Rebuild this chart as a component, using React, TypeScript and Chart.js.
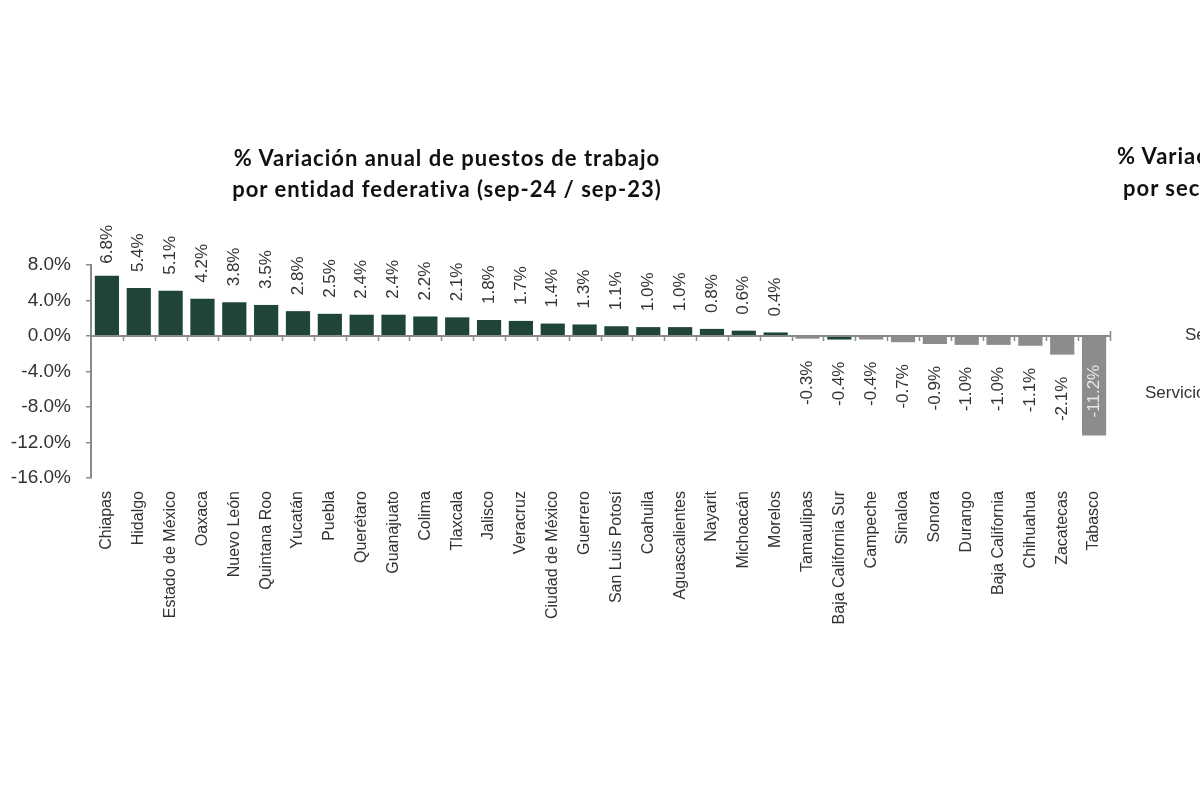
import React, { useEffect, useRef } from "react";
import { Chart, registerables } from "chart.js";

Chart.register(...registerables);

const categories = [
  "Chiapas", "Hidalgo", "Estado de México", "Oaxaca", "Nuevo León", "Quintana Roo",
  "Yucatán", "Puebla", "Querétaro", "Guanajuato", "Colima", "Tlaxcala", "Jalisco",
  "Veracruz", "Ciudad de México", "Guerrero", "San Luis Potosí", "Coahuila",
  "Aguascalientes", "Nayarit", "Michoacán", "Morelos", "Tamaulipas",
  "Baja California Sur", "Campeche", "Sinaloa", "Sonora", "Durango",
  "Baja California", "Chihuahua", "Zacatecas", "Tabasco",
];

const values = [
  6.8, 5.4, 5.1, 4.2, 3.8, 3.5, 2.8, 2.5, 2.4, 2.4, 2.2, 2.1, 1.8, 1.7, 1.4, 1.3,
  1.1, 1.0, 1.0, 0.8, 0.6, 0.4, -0.3, -0.4, -0.4, -0.7, -0.9, -1.0, -1.0, -1.1,
  -2.1, -11.2,
];

const yTicks = [-16, -12, -8, -4, 0, 4, 8];

const titleLines = [
  "% Variación anual de puestos de trabajo",
  "por entidad federativa (sep-24 / sep-23)",
];

const GREEN = "#1e4536";
const GRAY = "#8c8c8c";
const AXIS = "#8a8a8a";
const TEXT = "#333333";
const FONT = "'Liberation Sans', Arial, sans-serif";

const barColors = values.map((v, i) =>
  v >= 0 || categories[i] === "Baja California Sur" ? GREEN : GRAY
);

const fmt = (v: number) => v.toFixed(1) + "%";

const overlayPlugin = {
  id: "overlay",
  afterDatasetsDraw(chart: any) {
    const { ctx, chartArea, scales } = chart;
    const y = scales.y;
    const zeroY = y.getPixelForValue(0);
    ctx.save();
    ctx.strokeStyle = AXIS;
    ctx.lineWidth = 2;
    ctx.beginPath();
    ctx.moveTo(chartArea.left, zeroY);
    ctx.lineTo(chartArea.right, zeroY);
    ctx.stroke();
    const n = categories.length;
    const step = (chartArea.right - chartArea.left) / n;
    for (let i = 1; i <= n; i++) {
      const px = Math.round(chartArea.left + step * i) + 0.5;
      ctx.beginPath();
      ctx.moveTo(px, i === n ? zeroY - 5 : zeroY);
      ctx.lineTo(px, zeroY + 5);
      ctx.lineWidth = 1.5;
      ctx.stroke();
    }
    const meta = chart.getDatasetMeta(0);
    ctx.font = `17px ${FONT}`;
    ctx.textBaseline = "middle";
    meta.data.forEach((el: any, i: number) => {
      const v = values[i];
      const label = fmt(v);
      const w = ctx.measureText(label).width;
      ctx.save();
      if (v >= 0) {
        let start = el.y - 16;
        if (start - w < 225) start = 225 + w;
        ctx.translate(el.x, start);
        ctx.rotate(-Math.PI / 2);
        ctx.textAlign = "left";
        ctx.fillStyle = TEXT;
        ctx.fillText(label, 0, 0);
      } else if (Math.abs(v) > 5) {
        const mid = (el.y + el.base) / 2 + 5;
        ctx.translate(el.x, mid);
        ctx.rotate(-Math.PI / 2);
        ctx.textAlign = "center";
        ctx.fillStyle = "#e8e8e8";
        ctx.fillText(label, 0, 0);
      } else {
        ctx.translate(el.x, el.y + 22);
        ctx.rotate(-Math.PI / 2);
        ctx.textAlign = "right";
        ctx.fillStyle = TEXT;
        ctx.fillText(label, 0, 0);
      }
      ctx.restore();
    });
    ctx.restore();
  },
};

export default function App() {
  const ref = useRef<HTMLCanvasElement | null>(null);

  useEffect(() => {
    if (!ref.current) return;
    const chart = new Chart(ref.current, {
      type: "bar",
      data: {
        labels: categories,
        datasets: [
          {
            data: values,
            backgroundColor: barColors,
            barPercentage: 0.76,
            categoryPercentage: 1,
          },
        ],
      },
      options: {
        responsive: false,
        animation: false,
        layout: { padding: { top: 265, right: 90, bottom: 0, left: 0 } },
        plugins: {
          legend: { display: false },
          tooltip: { enabled: false },
          title: { display: false },
        },
        scales: {
          x: {
            afterFit: (s: any) => {
              s.height = 322;
            },
            grid: { display: false, drawTicks: false },
            border: { display: false },
            ticks: {
              autoSkip: false,
              minRotation: 90,
              maxRotation: 90,
              padding: 13,
              color: TEXT,
              font: { family: FONT, size: 16 },
            },
          },
          y: {
            min: yTicks[0],
            max: yTicks[yTicks.length - 1],
            afterFit: (s: any) => {
              s.width = 91;
            },
            afterBuildTicks: (s: any) => {
              s.ticks = yTicks.map((v) => ({ value: v }));
            },
            grid: {
              drawOnChartArea: false,
              drawTicks: true,
              tickLength: 5,
              color: AXIS,
              lineWidth: 1.5,
            },
            border: { display: true, color: AXIS, width: 2 },
            ticks: {
              padding: 15,
              color: TEXT,
              font: { family: FONT, size: 19 },
              callback: (v: any) => fmt(Number(v)),
            },
          },
        },
      },
      plugins: [overlayPlugin],
    });
    return () => chart.destroy();
  }, []);

  const titleStyle: React.CSSProperties = {
    position: "absolute",
    left: 447,
    transform: "translate(-50%, -50%)",
    whiteSpace: "nowrap",
    fontFamily: "Lato, 'Open Sans', sans-serif",
    fontWeight: 700,
    fontSize: 22,
    letterSpacing: 1,
    color: "#111111",
  };
  const sideTitle: React.CSSProperties = {
    position: "absolute",
    whiteSpace: "nowrap",
    fontFamily: "Lato, 'Open Sans', sans-serif",
    fontWeight: 700,
    fontSize: 22,
    letterSpacing: 1,
    color: "#111111",
    transform: "translateY(-50%)",
  };
  const sideLabel: React.CSSProperties = {
    position: "absolute",
    whiteSpace: "nowrap",
    fontFamily: FONT,
    fontSize: 17,
    color: TEXT,
    transform: "translateY(-50%)",
  };

  return (
    <div
      style={{
        position: "fixed",
        left: 0,
        top: 0,
        width: 1200,
        height: 800,
        overflow: "hidden",
        background: "#ffffff",
      }}
    >
      <canvas ref={ref} width={1200} height={800} style={{ position: "absolute", left: 0, top: 0 }} />
      <div style={{ ...titleStyle, top: 157 }}>{titleLines[0]}</div>
      <div style={{ ...titleStyle, top: 188 }}>{titleLines[1]}</div>
      <div style={{ ...sideTitle, left: 1117, top: 155 }}>% Variación anual</div>
      <div style={{ ...sideTitle, left: 1123, top: 187 }}>por sector</div>
      <div style={{ ...sideLabel, left: 1185, top: 335 }}>Servicios</div>
      <div style={{ ...sideLabel, left: 1145, top: 393 }}>Servicios</div>
    </div>
  );
}
